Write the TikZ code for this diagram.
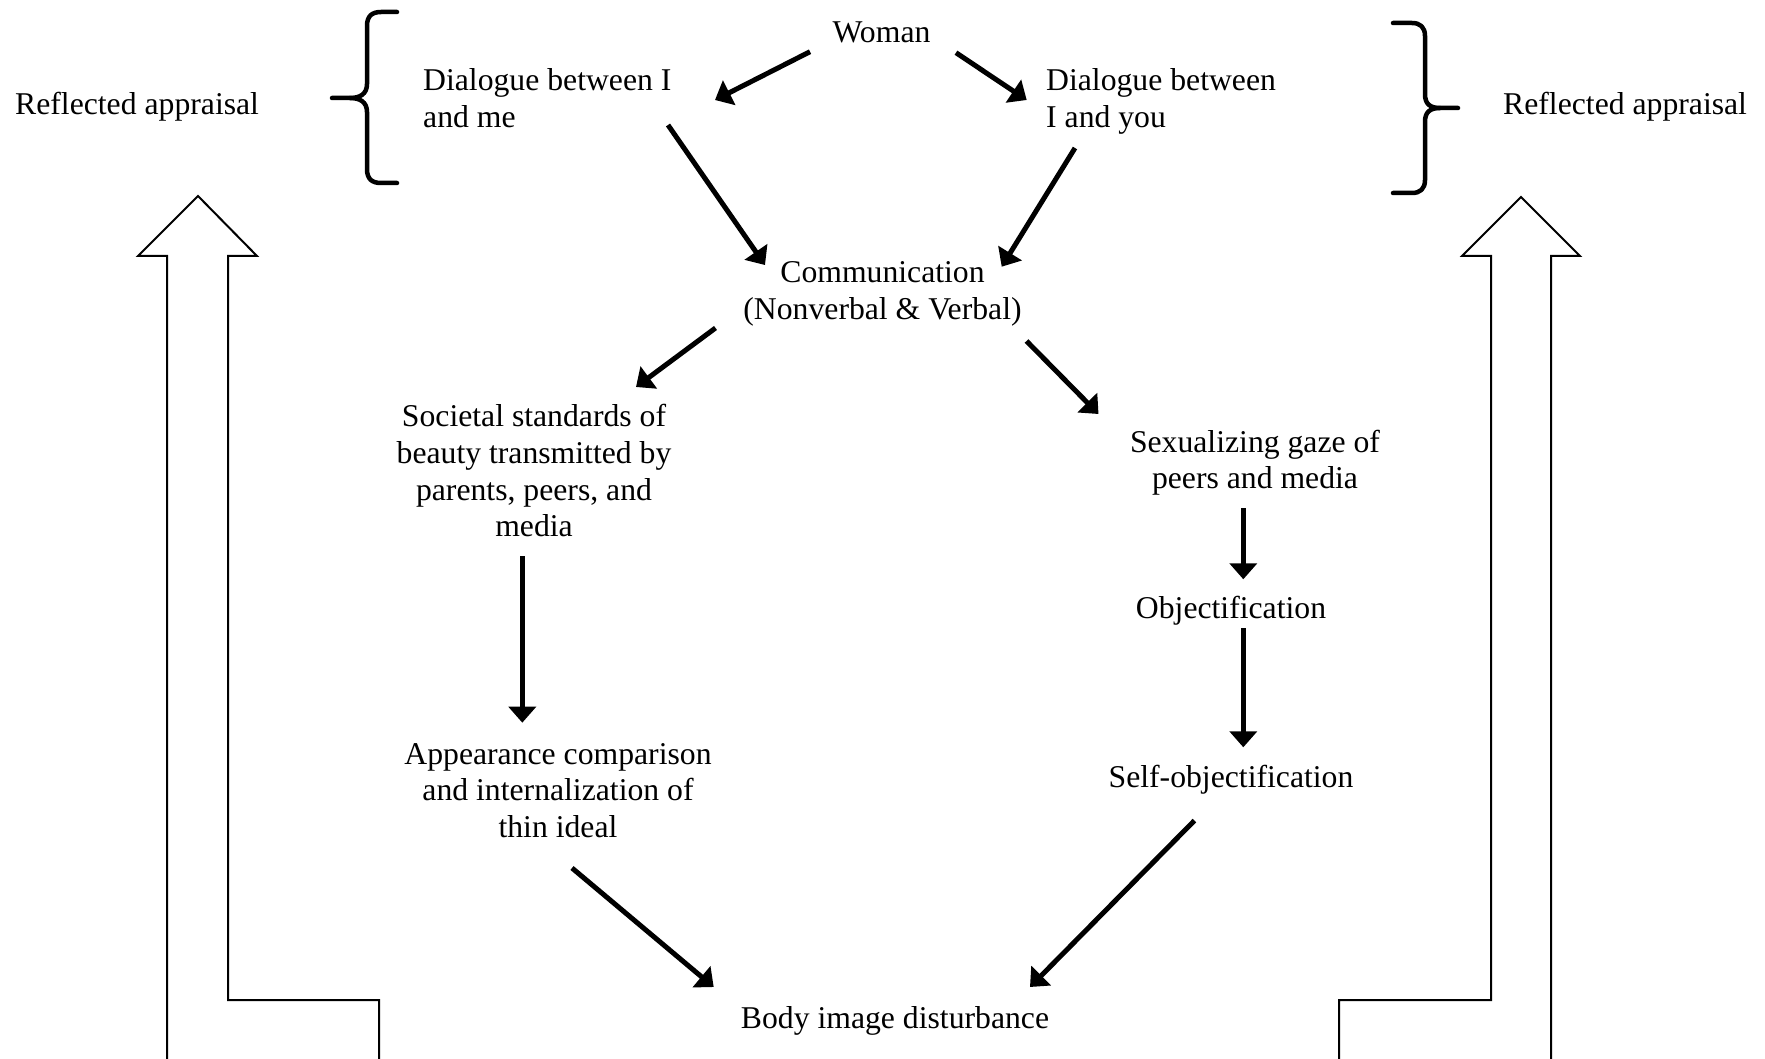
\documentclass[tikz,border=0pt]{standalone}
\usepackage{fontspec}
\setmainfont{Liberation Serif}
\usetikzlibrary{arrows.meta,calc}
\newcommand{\mlc}[1]{\begin{tabular}[t]{@{}c@{}}#1\end{tabular}}
\newcommand{\mll}[1]{\begin{tabular}[t]{@{}l@{}}#1\end{tabular}}
\begin{document}
\begin{tikzpicture}[x=1pt,y=-1pt,
  lbl/.style={anchor=base, inner sep=0pt, font=\fontsize{31.7}{36.7}\selectfont},
  lblw/.style={lbl, anchor=base west},
  arr/.style={line width=5pt, -{Triangle[length=16pt,width=27pt]}},
  bracep/.style={line width=4.5pt, line cap=round, line join=round},
  hollow/.style={line width=2pt, line join=miter}]
\useasboundingbox (0,0) rectangle (1765,1059);

% text nodes
\node[lbl]  (woman) at (881.5,42.7) {Woman};
\node[lblw] (dme)   at (423,90.7)   {\mll{Dialogue between I\\and me}};
\node[lblw] (dyou)  at (1046,90.7)  {\mll{Dialogue between\\I and you}};
\node[lblw] (reflL) at (15,115)     {Reflected appraisal};
\node[lblw] (reflR) at (1503,115)   {Reflected appraisal};
\node[lbl]  (comm)  at (882.5,282.7) {\mlc{Communication\\(Nonverbal \& Verbal)}};
\node[lbl]  (soc)   at (534,426.7)  {\mlc{Societal standards of\\beauty transmitted by\\parents, peers, and\\media}};
\node[lbl]  (sex)   at (1255,452)   {\mlc{Sexualizing gaze of\\peers and media}};
\node[lbl]  (obj)   at (1231,618.3) {Objectification};
\node[lbl]  (self)  at (1231,787)   {Self-objectification};
\node[lbl]  (app)   at (558,764)    {\mlc{Appearance comparison\\and internalization of\\thin ideal}};
\node[lbl]  (body)  at (895,1028)   {Body image disturbance};

% arrows
\draw[arr] ($(woman.base)+(-71.5,9)$) -- ($(dme.base west)+(292,9.3)$);
\draw[arr] ($(woman.base)+(74.5,10)$) -- ($(dyou.base west)+(-19.3,9.3)$);
\draw[arr] ($(dme.base west)+(245,34.3)$) -- ($(comm.base)+(-117.5,-17.7)$);
\draw[arr] ($(dyou.base west)+(29,57.3)$) -- ($(comm.base)+(119.2,-16)$);
\draw[arr] ($(comm.base)+(-167,45.3)$) -- ($(soc.base)+(102,-39.7)$);
\draw[arr] ($(comm.base)+(144,58.3)$) -- ($(sex.base)+(-156.5,-38)$);
\draw[arr] ($(soc.base)+(-11.7,129.3)$) -- ($(app.base)+(-35.7,-41.3)$);
\draw[arr] ($(sex.base)+(-11.7,56.3)$) -- ($(obj.base)+(12.3,-39)$);
\draw[arr] ($(obj.base)+(12.3,10)$) -- ($(self.base)+(12.3,-39.7)$);
\draw[arr] ($(app.base)+(14,104)$) -- ($(body.base)+(-181.3,-41)$);
\draw[arr] ($(self.base)+(-36.6,33.6)$) -- ($(body.base)+(135,-41)$);

% braces
\draw[bracep] (397,12) -- (381,12) .. controls (372,12) and (367,16) .. (367,26)
  -- (367,84) .. controls (367,94) and (360,98) .. (350,98) -- (332,98);
\draw[bracep] (350,98) .. controls (360,98) and (367,102) .. (367,112)
  -- (367,169) .. controls (367,179) and (372,183) .. (381,183) -- (397,183);
\draw[bracep] (1393,23) -- (1412,23) .. controls (1420,23) and (1425,27) .. (1425,36)
  -- (1425,94) .. controls (1425,104) and (1430,108) .. (1440,108) -- (1458,108);
\draw[bracep] (1440,108) .. controls (1430,108) and (1425,112) .. (1425,122)
  -- (1425,180) .. controls (1425,189) and (1420,193) .. (1412,193) -- (1393,193);

% hollow block arrows
\draw[hollow] (167,1059) -- (167,256) -- (138,256) -- (198,196) -- (257,256)
  -- (228,256) -- (228,1000) -- (379,1000) -- (379,1059);
\draw[hollow] (1551,1059) -- (1551,256) -- (1580,256) -- (1521,197) -- (1462,256)
  -- (1491,256) -- (1491,1000) -- (1339,1000) -- (1339,1059);
\end{tikzpicture}
\end{document}
